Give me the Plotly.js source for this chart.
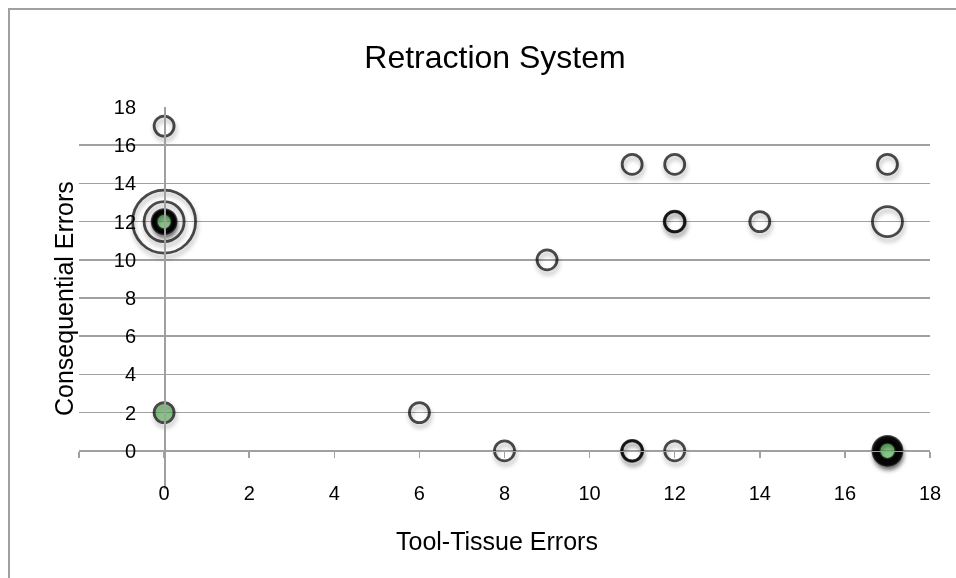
<!DOCTYPE html>
<html>
<head>
<meta charset="utf-8">
<script src="https://cdn.plot.ly/plotly-3.0.1.min.js"></script>
<style>html,body{margin:0;padding:0;background:#fff;}#chart{width:956px;height:578px;}</style>
</head>
<body>
<div id="chart"></div>
<script>
// ---- data ----
const tickValues = [0, 2, 4, 6, 8, 10, 12, 14, 16, 18];
const tickLabels = ["0", "2", "4", "6", "8", "10", "12", "14", "16", "18"];
const axisTickValues = [-2, 0, 2, 4, 6, 8, 10, 12, 14, 16, 18];

// hollow bubbles (Tool-Tissue errors, Consequential errors, bubble size)
const hollowX    = [0, 0, 0, 0, 0, 0, 0, 0, 6, 8, 9, 11, 11, 11, 12, 12, 12, 12, 14, 17, 17, 17, 17, 17, 17, 17, 17, 17];
const hollowY    = [17, 12, 12, 12, 12, 12, 12, 12, 2, 0, 10, 15, 0, 0, 15, 12, 12, 0, 12, 15, 12, 0, 0, 0, 0, 0, 0, 0];
const hollowSize = [20, 63, 40, 16, 18, 20, 22, 24, 20, 20, 20, 20, 20, 21, 20, 20, 21, 20, 20, 20, 30, 17, 19, 21, 23, 25, 27, 29];

// green bubbles
const greenX    = [0, 0, 17];
const greenY    = [12, 2, 0];
const greenSize = [20, 20, 20];

// ---- layout constants ----
const W = 956, H = 578;
const M = {l: 79, r: 26, t: 107, b: 89};
const PW = W - M.l - M.r, PH = H - M.t - M.b;
const FONT = 'Arial, "Liberation Sans", Helvetica, sans-serif';
const GRID = '#a0a0a0';
const RANGE = [-2, 18];
const zeroFrac = (0 - RANGE[0]) / (RANGE[1] - RANGE[0]);
const LW = 2.8;

const shadow = {
  type: 'scatter', mode: 'markers', hoverinfo: 'skip', showlegend: false,
  x: greenX.concat(hollowX), y: greenY.concat(hollowY),
  xaxis: 'x', yaxis: 'y',
  marker: {size: greenSize.concat(hollowSize), sizemode: 'diameter',
           color: 'rgba(0,0,0,0)', line: {color: 'rgba(0,0,0,0.32)', width: 3.5}}
};
const green = {
  type: 'scatter', mode: 'markers', hoverinfo: 'skip', showlegend: false,
  x: greenX, y: greenY, xaxis: 'x', yaxis: 'y',
  marker: {size: greenSize, sizemode: 'diameter', color: 'rgba(74,162,74,0.92)',
           line: {color: '#000', width: LW}}
};
const hollow = {
  type: 'scatter', mode: 'markers', hoverinfo: 'skip', showlegend: false,
  x: hollowX, y: hollowY, xaxis: 'x', yaxis: 'y',
  marker: {size: hollowSize, sizemode: 'diameter', color: 'rgba(0,0,0,0)',
           line: {color: '#000', width: LW}}
};
// invisible trace to activate the tick axis at y=0
const axisCarrier = {
  type: 'scatter', mode: 'markers', hoverinfo: 'skip', showlegend: false,
  x: [RANGE[0]], y: [RANGE[0]], xaxis: 'x2', yaxis: 'y', marker: {opacity: 0}
};

const layout = {
  width: W, height: H,
  margin: M,
  paper_bgcolor: '#fff', plot_bgcolor: 'rgba(0,0,0,0)',
  font: {family: FONT, color: '#000', size: 20},
  title: {text: 'Retraction System', font: {family: FONT, size: 32, color: '#000'},
          x: (495 - M.l) / PW, xref: 'paper', xanchor: 'center', y: 1 - 57 / H, yanchor: 'middle'},
  xaxis: {
    range: RANGE, domain: [0, 1], anchor: 'free', position: 10 / PH,
    tickmode: 'array', tickvals: tickValues, ticktext: tickLabels,
    showgrid: false, zeroline: false, showline: false, ticks: '',
    tickfont: {family: FONT, size: 20, color: '#000'},
    fixedrange: true
  },
  xaxis2: {
    range: RANGE, overlaying: 'x', anchor: 'free', position: zeroFrac,
    tickmode: 'array', tickvals: axisTickValues, showticklabels: false,
    showgrid: false, zeroline: false, showline: true, linecolor: GRID, linewidth: 1.5,
    ticks: 'outside', ticklen: 6, tickwidth: 1.5, tickcolor: GRID, fixedrange: true
  },
  yaxis: {
    range: RANGE, domain: [0, 1], anchor: 'free', position: zeroFrac,
    tickmode: 'array', tickvals: tickValues, ticktext: tickLabels,
    showgrid: true, gridcolor: GRID, gridwidth: 1.5,
    zeroline: false, showline: true, linecolor: GRID, linewidth: 1.5,
    ticks: '', ticklabelstandoff: 24,
    tickfont: {family: FONT, size: 20, color: '#000'},
    fixedrange: true
  },
  annotations: [{
    text: 'Consequential Errors', xref: 'paper', yref: 'paper',
    x: (64 - M.l) / PW, y: 1 - (299 - M.t) / PH, xanchor: 'center', yanchor: 'middle',
    textangle: -90, showarrow: false, font: {family: FONT, size: 25, color: '#000'}
  }, {
    text: 'Tool-Tissue Errors', xref: 'paper', yref: 'paper',
    x: (497 - M.l) / PW, y: -(541 - M.t - PH) / PH, xanchor: 'center', yanchor: 'middle',
    showarrow: false, font: {family: FONT, size: 25, color: '#000'}
  }],
  shapes: [{
    type: 'path', xref: 'paper', yref: 'paper', layer: 'below',
    path: 'M ' + ((9 - M.l) / PW) + ' ' + (-(M.b + 100) / PH) + ' L ' + ((9 - M.l) / PW) + ' ' + (1 + (M.t - 9) / PH) + ' L ' + (1 + (M.r + 100) / PW) + ' ' + (1 + (M.t - 9) / PH),
    line: {color: '#a0a0a0', width: 2}
  }]
};

Plotly.newPlot('chart', [shadow, green, hollow, axisCarrier], layout, {staticPlot: true, displayModeBar: false}).then(function (gd) {
  // soft drop shadow: offset + blur on the shadow trace
  const svg = gd.querySelector('.main-svg');
  const defs = svg.querySelector('defs');
  const NS = 'http://www.w3.org/2000/svg';
  const f = document.createElementNS(NS, 'filter');
  f.setAttribute('id', 'softShadow');
  f.setAttribute('x', '-50%'); f.setAttribute('y', '-50%');
  f.setAttribute('width', '200%'); f.setAttribute('height', '200%');
  const b = document.createElementNS(NS, 'feGaussianBlur');
  b.setAttribute('stdDeviation', '2.2');
  f.appendChild(b);
  defs.appendChild(f);
  const traces = gd.querySelectorAll('.scatterlayer .trace');
  if (traces.length) {
    traces[0].setAttribute('transform', 'translate(1,4)');
    traces[0].setAttribute('filter', 'url(#softShadow)');
  }
});
</script>
</body>
</html>
